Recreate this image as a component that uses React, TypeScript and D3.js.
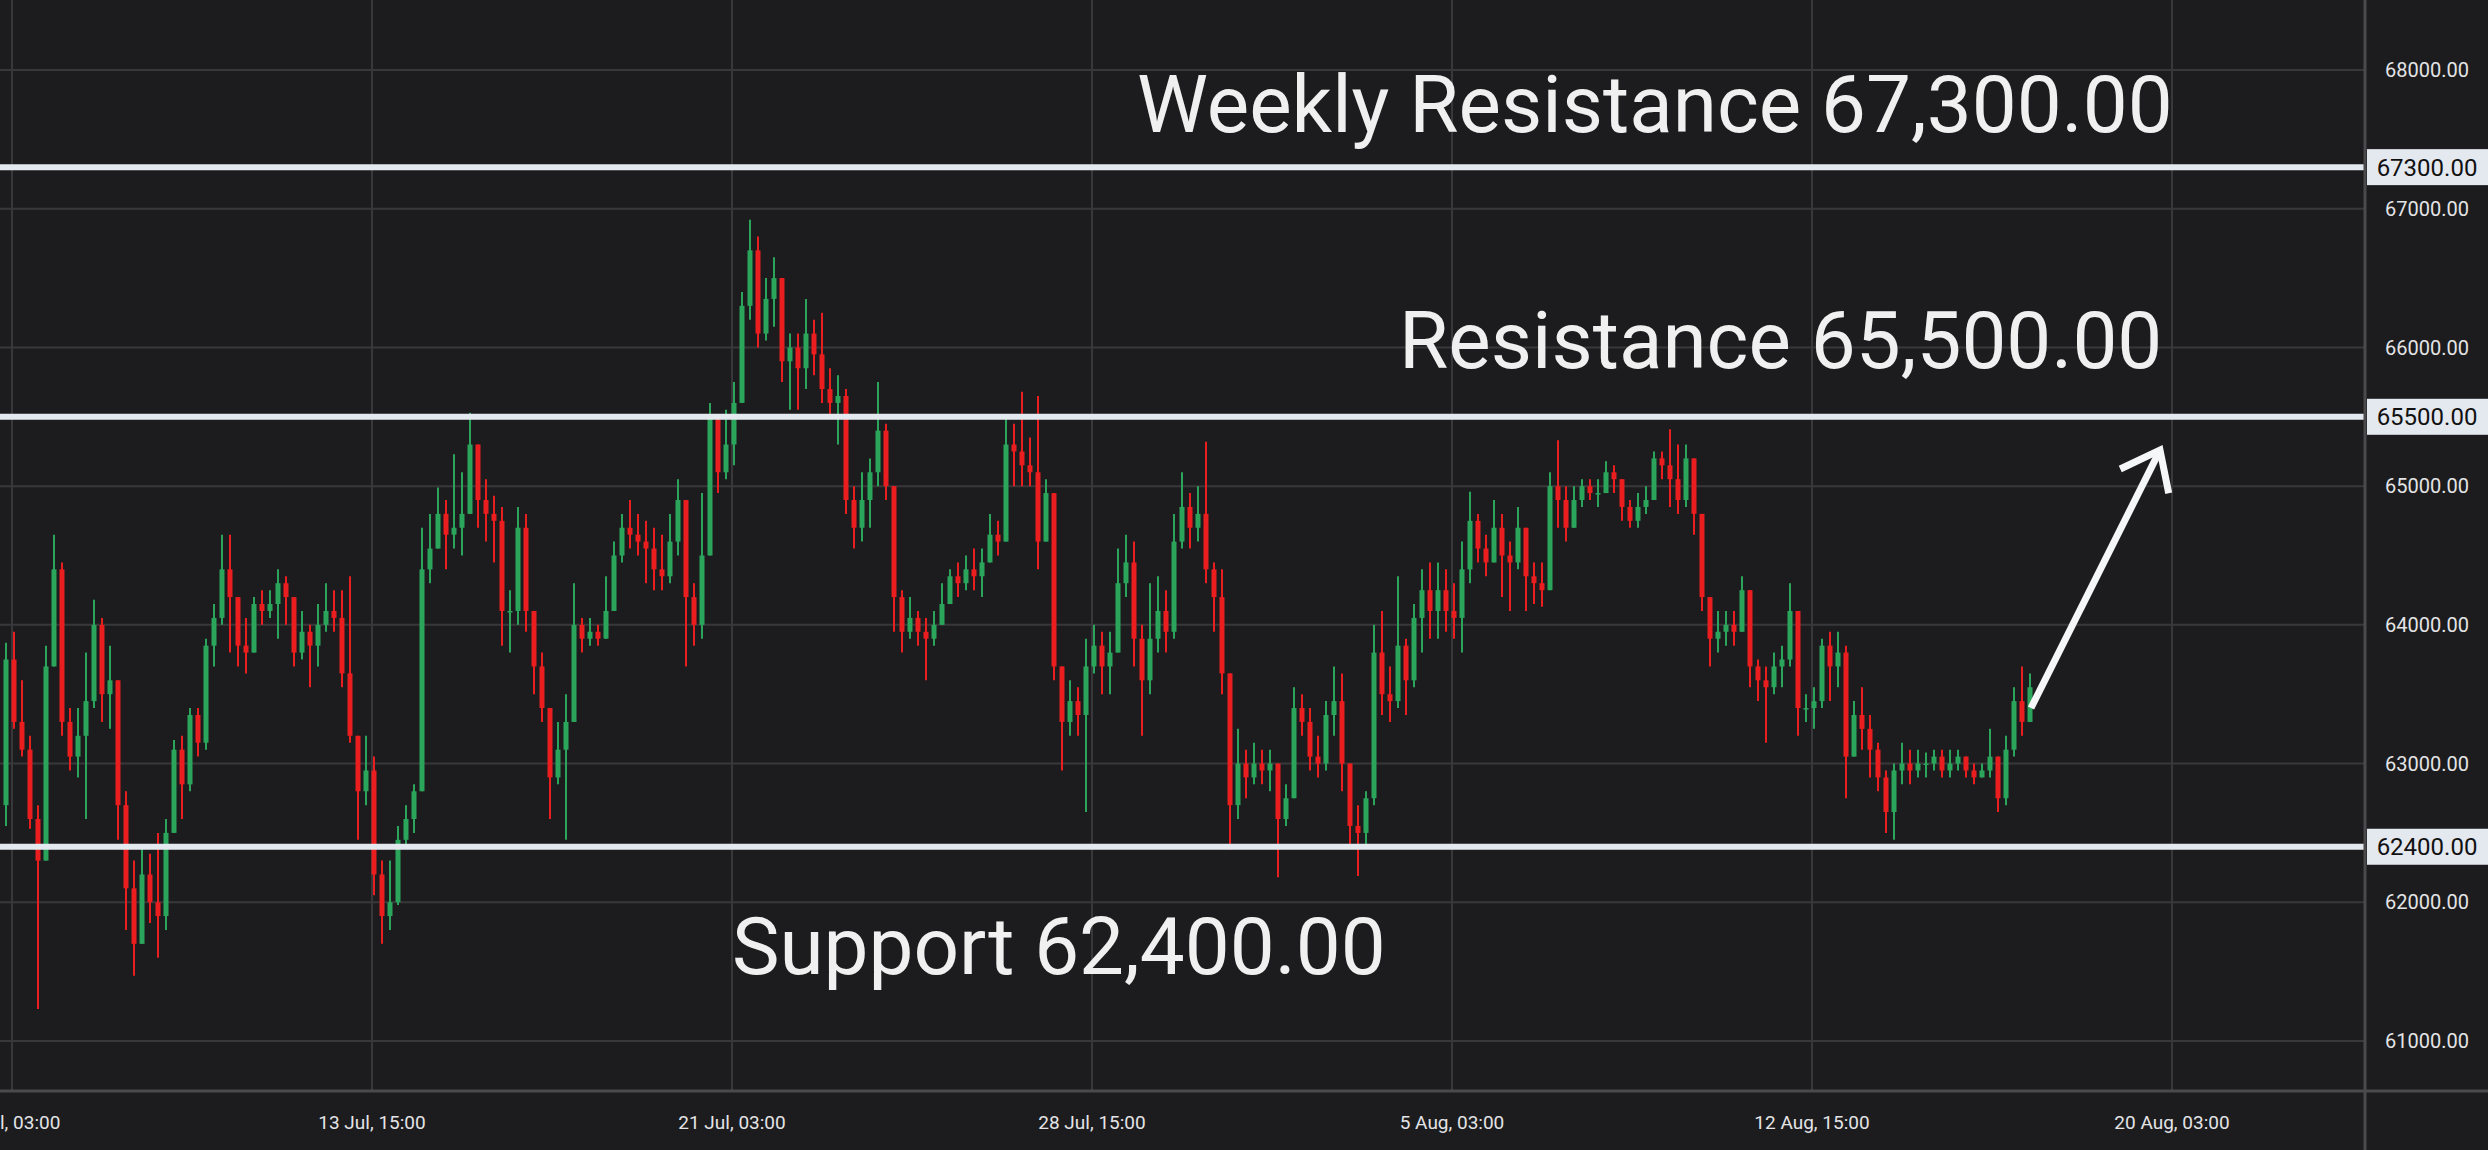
import React, { useEffect, useRef } from "react";
import * as d3 from "d3";

// 4h candles from 6 Jul 00:00 UTC, open = previous close
const firstOpen = 62700;
const startTime = "2024-07-06T00:00:00Z";

const closes = [
  63750, 63300, 63100, 62600, 62300, 63700, 64400, 63300, 63050, 63200,
  63450, 64000, 63500, 63600, 62700, 62100, 61700, 62200, 62000, 61900,
  62500, 63100, 62850, 63350, 63150, 63850, 64050, 64400, 64200, 63850,
  63800, 64150, 64100, 64150, 64300, 64200, 63800, 63950, 63850, 64000,
  64100, 64050, 63650, 63200, 62800, 62950, 62200, 61900, 62000, 62450,
  62600, 62800, 64400, 64550, 64800, 64650, 64700, 64800, 65300, 64900,
  64800, 64750, 64100, 64100, 64700, 64100, 63700, 63400, 62900, 63100,
  63300, 64000, 63900, 63950, 63900, 64100, 64500, 64700, 64650, 64600,
  64550, 64400, 64350, 64600, 64900, 64200, 64000, 64500, 65500, 65100,
  65300, 65600, 66300, 66700, 66100, 66350, 66500, 65900, 66000, 65850,
  66100, 65950, 65700, 65600, 65650, 64900, 64700, 64900, 65100, 65400,
  65000, 64200, 63950, 64050, 63950, 63900, 64000, 64150, 64350, 64300,
  64400, 64350, 64450, 64650, 64600, 65300, 65250, 65150, 65100, 64600,
  64950, 63700, 63300, 63450, 63350, 63700, 63850, 63700, 63800, 64300,
  64450, 63900, 63600, 63900, 64100, 63950, 64600, 64850, 64700, 64800,
  64400, 64200, 63650, 62700, 63000, 62900, 63000, 62950, 63000, 62600,
  62750, 63400, 63300, 63050, 63000, 63350, 63450, 63000, 62550, 62500,
  62750, 63800, 63500, 63450, 63850, 63600, 64050, 64250, 64100, 64250,
  64100, 64050, 64400, 64750, 64550, 64450, 64700, 64500, 64450, 64700,
  64350, 64300, 64250, 65000, 64900, 64700, 64900, 65000, 64950, 64950,
  65100, 65050, 64850, 64750, 64850, 64900, 65200, 65150, 65050, 64900,
  65200, 64800, 64200, 63900, 63950, 64000, 63950, 64250, 63700, 63600,
  63550, 63700, 63750, 64100, 63400, 63400, 63450, 63850, 63700, 63800,
  63050, 63350, 63250, 63100, 62900, 62650, 62950, 63000, 62950, 63000,
  63000, 63050, 62950, 63000, 63050, 62950, 62900, 62950, 63050, 62750,
  63100, 63450, 63300, 63550,
];

const highs = [
  63870, 63950, 63600, 63200, 62700, 63850, 64650, 64450, 63400, 63400,
  63800, 64180, 64050, 63850, 63600, 62800, 62300, 62400, 62350, 62500,
  62600, 63170, 63200, 63400, 63400, 63900, 64150, 64650, 64650, 64200,
  64050, 64200, 64250, 64250, 64400, 64350, 64150, 64100, 64000, 64150,
  64300, 64250, 64250, 64350, 63200, 63200, 63050, 62300, 62300, 62550,
  62700, 62850, 64700, 64800, 64990, 64900, 65230, 65100, 65530, 65250,
  65050, 64930, 64850, 64250, 64850, 64800, 64100, 63800, 63400, 63300,
  63500, 64300, 64050, 64050, 64000, 64350, 64600, 64800, 64900, 64800,
  64750, 64700, 64650, 64800, 65050, 64900, 64300, 64950, 65600, 65500,
  65550, 65750, 66400, 66920, 66800, 66500, 66650, 66500, 66100, 66100,
  66350, 66200, 66250, 65850, 65800, 65700, 65000, 65100, 65200, 65750,
  65450, 65000, 64250, 64200, 64100, 64050, 64100, 64300, 64400, 64450,
  64500, 64550, 64550, 64800, 64750, 65500, 65450, 65680, 65350, 65650,
  65050, 64950, 63700, 63600, 63550, 63900, 64000, 63950, 63950, 64550,
  64650, 64600, 64000, 64300, 64350, 64250, 64800, 65100, 64950, 65000,
  65320, 64450, 64400, 63650, 63250, 63100, 63150, 63100, 63100, 63000,
  62850, 63550, 63500, 63400, 63200, 63450, 63700, 63650, 63000, 62700,
  62800, 64000, 64100, 63700, 64350, 63900, 64150, 64400, 64450, 64450,
  64400, 64300, 64600, 64960, 64800, 64650, 64900, 64800, 64600, 64850,
  64500, 64450, 64450, 65100, 65330, 65000, 65000, 65050, 65050, 65050,
  65180, 65150, 65050, 64900, 64950, 65000, 65250, 65250, 65410, 65300,
  65300, 65200, 64800, 64200, 64100, 64100, 64100, 64350, 64250, 63750,
  63700, 63800, 63850, 64300, 64100, 63500, 63550, 63900, 63950, 63950,
  63850, 63450, 63550, 63350, 63150, 62950, 63000, 63150, 63100, 63100,
  63080, 63100, 63100, 63100, 63100, 63050, 63000, 63000, 63250, 63050,
  63200, 63550, 63700, 63650,
];

const lows = [
  62550, 63250, 63050, 62530, 61230, 62300, 63700, 63200, 62950, 62900,
  62600, 63400, 63300, 63250, 62450, 61800, 61470, 61700, 61850, 61600,
  61800, 62500, 62600, 62800, 63050, 63100, 63700, 64000, 63800, 63700,
  63650, 63800, 64000, 64050, 63900, 64000, 63700, 63750, 63550, 63700,
  63950, 63950, 63550, 63150, 62450, 62700, 62050, 61700, 61800, 61980,
  62400, 62500, 62800, 64300, 64550, 64400, 64550, 64500, 64800, 64700,
  64600, 64450, 63850, 63800, 64000, 63950, 63500, 63300, 62600, 62850,
  62450, 63300, 63800, 63850, 63850, 63900, 64100, 64450, 64550, 64500,
  64300, 64250, 64250, 64300, 64500, 63700, 63850, 63900, 64500, 64950,
  65050, 65150, 65600, 66200, 66000, 66050, 66150, 65750, 65550, 65550,
  65700, 65800, 65600, 65500, 65300, 64800, 64550, 64600, 64700, 65000,
  64900, 63950, 63800, 63900, 63850, 63600, 63850, 64000, 64150, 64200,
  64250, 64250, 64200, 64450, 64500, 64600, 65000, 65000, 65000, 64400,
  64700, 63600, 62950, 63200, 63200, 62650, 63650, 63500, 63500, 63800,
  64200, 63700, 63200, 63500, 63800, 63800, 63900, 64550, 64550, 64600,
  64300, 63950, 63500, 62380, 62600, 62750, 62850, 62850, 62800, 62180,
  62550, 62750, 63200, 62950, 62900, 62950, 63200, 62800, 62400, 62190,
  62400, 62700, 63350, 63300, 63400, 63350, 63550, 63800, 63900, 63900,
  63950, 63900, 63800, 64300, 64450, 64350, 64450, 64200, 64100, 64400,
  64100, 64150, 64130, 64250, 64700, 64600, 64700, 64850, 64900, 64850,
  64950, 64950, 64750, 64700, 64700, 64800, 64900, 65050, 64850, 64800,
  64850, 64650, 64100, 63700, 63800, 63850, 63850, 63950, 63550, 63450,
  63150, 63500, 63550, 63700, 63200, 63300, 63250, 63400, 63450, 63550,
  62750, 63050, 63100, 62900, 62800, 62500, 62450, 62850, 62850, 62900,
  62900, 62950, 62900, 62900, 62950, 62900, 62850, 62900, 62900, 62650,
  62700, 63050, 63200, 63300,
];

const priceTicks = [61000, 62000, 63000, 64000, 65000, 66000, 67000, 68000];

const timeTicks = [
  "2024-07-06T03:00:00Z",
  "2024-07-13T15:00:00Z",
  "2024-07-21T03:00:00Z",
  "2024-07-28T15:00:00Z",
  "2024-08-05T03:00:00Z",
  "2024-08-12T15:00:00Z",
  "2024-08-20T03:00:00Z",
];
const timeTickLabels = [
  "6 Jul, 03:00",
  "13 Jul, 15:00",
  "21 Jul, 03:00",
  "28 Jul, 15:00",
  "5 Aug, 03:00",
  "12 Aug, 15:00",
  "20 Aug, 03:00",
];

const levels = [67300, 65500, 62400];
const levelNotes = [
  { text: "Weekly Resistance 67,300.00", price: 67300, at: "2024-07-29T13:30:00Z", dy: -35 },
  { text: "Resistance 65,500.00", price: 65500, at: "2024-08-04T00:30:00Z", dy: -49 },
  { text: "Support 62,400.00", price: 62400, at: "2024-07-21T03:00:00Z", dy: 127 },
];
// projected move
const arrowFrom = { at: "2024-08-17T04:30:00Z", price: 63400 };
const arrowTo = { at: "2024-08-19T21:00:00Z", price: 65260 };

const bg = "#1c1c1e";
const gridColor = "#38383b";
const axisColor = "#4a4a4d";
const up = "#2ba55c";
const down = "#ea1d1f";
const levelColor = "#e4e8ef";
const font = "Roboto, 'Noto Sans', sans-serif";

export default function App() {
  const ref = useRef<SVGSVGElement>(null);

  useEffect(() => {
    const width = 2488;
    const height = 1150;
    const plotRight = 2364;
    const plotBottom = 1091;

    const x = d3.scaleUtc(
      [new Date("2024-07-05T21:00:00Z"), new Date("2024-08-24T03:00:00Z")],
      [0, plotRight]
    );
    const y = d3.scaleLinear([60639, 68505], [plotBottom, 0]);

    const t0 = new Date(startTime).getTime();
    const step = 4 * 3600 * 1000;
    const candles = closes.map((c, i) => {
      const o = i === 0 ? firstOpen : closes[i - 1];
      return {
        date: new Date(t0 + i * step),
        open: o,
        close: c,
        high: Math.max(highs[i], o, c),
        low: Math.min(lows[i], o, c),
      };
    });

    const svg = d3.select(ref.current);
    svg.selectAll("*").remove();
    svg.attr("width", width).attr("height", height).attr("viewBox", [0, 0, width, height]);

    svg.append("rect").attr("width", width).attr("height", height).attr("fill", bg);

    // grid
    const grid = svg.append("g");
    grid
      .selectAll("line.h")
      .data(priceTicks)
      .join("line")
      .attr("x1", 0)
      .attr("x2", plotRight)
      .attr("y1", (d) => y(d))
      .attr("y2", (d) => y(d))
      .attr("stroke", gridColor)
      .attr("stroke-width", 2);
    grid
      .selectAll("line.v")
      .data(timeTicks)
      .join("line")
      .attr("x1", (d) => x(new Date(d)))
      .attr("x2", (d) => x(new Date(d)))
      .attr("y1", 0)
      .attr("y2", plotBottom)
      .attr("stroke", gridColor)
      .attr("stroke-width", 2);

    // candles
    const bw = 5;
    const g = svg.append("g");
    g.selectAll("line")
      .data(candles)
      .join("line")
      .attr("x1", (d) => x(d.date))
      .attr("x2", (d) => x(d.date))
      .attr("y1", (d) => y(d.high))
      .attr("y2", (d) => y(d.low))
      .attr("stroke", (d) => (d.close >= d.open ? up : down))
      .attr("stroke-width", 2);
    g.selectAll("rect")
      .data(candles)
      .join("rect")
      .attr("x", (d) => x(d.date) - bw / 2)
      .attr("width", bw)
      .attr("y", (d) => y(Math.max(d.open, d.close)))
      .attr("height", (d) => Math.max(1.5, Math.abs(y(d.open) - y(d.close))))
      .attr("fill", (d) => (d.close >= d.open ? up : down));

    // level lines
    svg
      .append("g")
      .selectAll("line")
      .data(levels)
      .join("line")
      .attr("x1", 0)
      .attr("x2", plotRight)
      .attr("y1", (d) => y(d))
      .attr("y2", (d) => y(d))
      .attr("stroke", levelColor)
      .attr("stroke-width", 6);

    // annotations
    svg
      .append("g")
      .selectAll("text")
      .data(levelNotes)
      .join("text")
      .attr("x", (d) => x(new Date(d.at)))
      .attr("y", (d) => y(d.price) + d.dy)
      .attr("fill", "#f0f0f0")
      .attr("font-family", font)
      .attr("font-size", 80)
      .text((d) => d.text);

    // arrow
    const ax1 = x(new Date(arrowFrom.at));
    const ay1 = y(arrowFrom.price);
    const ax2 = x(new Date(arrowTo.at));
    const ay2 = y(arrowTo.price);
    const ang = Math.atan2(ay2 - ay1, ax2 - ax1);
    const head = 44;
    const spread = (38 * Math.PI) / 180;
    const arrow = svg
      .append("g")
      .attr("stroke", "#f5f6f8")
      .attr("stroke-width", 7)
      .attr("fill", "none");
    arrow.append("line").attr("x1", ax1).attr("y1", ay1).attr("x2", ax2).attr("y2", ay2);
    arrow
      .append("path")
      .attr("stroke-linejoin", "miter")
      .attr(
        "d",
        d3.line()([
          [ax2 - head * Math.cos(ang - spread), ay2 - head * Math.sin(ang - spread)],
          [ax2, ay2],
          [ax2 - head * Math.cos(ang + spread), ay2 - head * Math.sin(ang + spread)],
        ])
      );

    // axes borders
    svg
      .append("line")
      .attr("x1", plotRight + 1)
      .attr("x2", plotRight + 1)
      .attr("y1", 0)
      .attr("y2", height)
      .attr("stroke", axisColor)
      .attr("stroke-width", 3);
    svg
      .append("line")
      .attr("x1", 0)
      .attr("x2", width)
      .attr("y1", plotBottom)
      .attr("y2", plotBottom)
      .attr("stroke", axisColor)
      .attr("stroke-width", 3);

    // price axis labels
    const labelX = 2427;
    svg
      .append("g")
      .selectAll("text")
      .data(priceTicks)
      .join("text")
      .attr("x", labelX)
      .attr("y", (d) => y(d))
      .attr("dy", "0.36em")
      .attr("text-anchor", "middle")
      .attr("fill", "#e4e4e6")
      .attr("font-family", font)
      .attr("font-size", 20)
      .text((d) => d3.format(".2f")(d));

    const tags = svg.append("g").selectAll("g").data(levels).join("g");
    tags
      .append("rect")
      .attr("x", plotRight + 3)
      .attr("width", width - plotRight - 3)
      .attr("y", (d) => y(d) - 18)
      .attr("height", 36)
      .attr("fill", levelColor);
    tags
      .append("text")
      .attr("x", labelX)
      .attr("y", (d) => y(d))
      .attr("dy", "0.36em")
      .attr("text-anchor", "middle")
      .attr("fill", "#111")
      .attr("font-family", font)
      .attr("font-size", 24)
      .text((d) => d3.format(".2f")(d));

    // time axis labels
    svg
      .append("g")
      .selectAll("text")
      .data(timeTicks)
      .join("text")
      .attr("x", (d) => x(new Date(d)))
      .attr("y", 1122)
      .attr("dy", "0.36em")
      .attr("text-anchor", "middle")
      .attr("fill", "#e4e4e6")
      .attr("font-family", font)
      .attr("font-size", 19)
      .text((d, i) => timeTickLabels[i]);
  }, []);

  return (
    <svg
      ref={ref}
      style={{ position: "absolute", left: 0, top: 0, display: "block" }}
    />
  );
}
